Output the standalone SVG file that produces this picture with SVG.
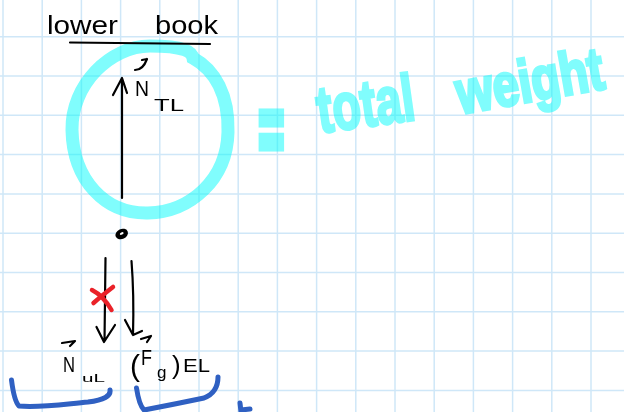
<svg xmlns="http://www.w3.org/2000/svg" width="624" height="412" viewBox="0 0 624 412">
<style>
.grid{stroke:#cfe7f8;stroke-width:1.5;fill:none}
.ink{stroke:#000;stroke-width:2.2;fill:none;stroke-linecap:round;stroke-linejoin:round}
.hand{font-family:"Liberation Sans",Arial,sans-serif;fill:#000}
.blue{stroke:#2f60c2;stroke-width:5;fill:none;stroke-linecap:round;stroke-linejoin:round}
.red{stroke:#ea2229;stroke-width:4.5;fill:none;stroke-linecap:round}
</style>
<rect width="624" height="412" fill="#fff"/>
<g id="grid" class="grid">
<path d="M3 0V412M42.2 0V412M81.4 0V412M120.6 0V412M159.8 0V412M199 0V412M238.2 0V412M277.4 0V412M316.6 0V412M355.8 0V412M395 0V412M434.2 0V412M473.4 0V412M512.6 0V412M551.8 0V412M591 0V412"/>
<path d="M0 36.7H624M0 76H624M0 115.3H624M0 154.6H624M0 193.9H624M0 233.2H624M0 272.5H624M0 311.8H624M0 351.1H624M0 390.4H624"/>
</g>
<g id="highlight" opacity="0.5" fill="#00fafa" stroke="#00fafa" font-family="Liberation Sans, Arial, sans-serif" font-weight="bold">
<path d="M150 46C185 46 192 52 193 58C215 70 229 95 228 132C227 180 190 212 148 213C105 214 73 180 72 130C71 85 110 46 150 46Z" fill="none" stroke-width="13"/>
<text x="0" y="0" font-size="90" stroke-width="9" transform="translate(259,160) scale(0.47,1)">=</text>
<text x="320" y="133" font-size="66" stroke-width="3" textLength="98" lengthAdjust="spacingAndGlyphs" transform="rotate(-8 320 133)">total</text>
<text x="0" y="0" font-size="47" stroke-width="2.6" transform="rotate(-10 460 114) translate(460 114) scale(1 1.28)">weight</text>
</g>
<g id="lower-book">
<text class="hand" font-size="26" y="34"><tspan x="47" textLength="71" lengthAdjust="spacingAndGlyphs">lower</tspan><tspan x="155" textLength="63" lengthAdjust="spacingAndGlyphs">book</tspan></text>
<path class="ink" d="M70 42.5L210 44"/>
</g>
<g id="connectors">
<path class="ink" d="M122 198L122 79M113 95L122 78L127 93"/>
<path class="ink" d="M105.5 258L104.5 341M96.5 327L104 342L115 325"/>
<path class="ink" d="M131.5 261C133 280 134 300 133 335M125 320L133 335L142 331"/>
</g>
<g id="N-TL">
<path class="ink" d="M135 70Q143 70 147 59M142 60L147 59" stroke-width="1.8"/>
<text class="hand" x="135" y="96" font-size="22" textLength="14" lengthAdjust="spacingAndGlyphs">N</text>
<text class="hand" x="154" y="111" font-size="16" textLength="30" lengthAdjust="spacingAndGlyphs">TL</text>
</g>
<g id="point">
<ellipse cx="121.7" cy="234" rx="6.5" ry="5" transform="rotate(-25 121.7 234)" fill="#000"/>
<ellipse cx="121.7" cy="233.5" rx="2" ry="1.1" transform="rotate(-25 121.7 233.5)" fill="#fff"/>
</g>
<g id="cross">
<path class="red" d="M92 290C98 293 104 297 111.5 310M93.5 303C98 299 104 294 113 287"/>
</g>
<g id="N-uL">
<path class="ink" d="M62 343L75 341L70 346" stroke-width="1.8"/>
<text class="hand" x="63" y="372" font-size="22" textLength="12" lengthAdjust="spacingAndGlyphs">N</text>
<text class="hand" x="82" y="382" font-size="11" textLength="23" lengthAdjust="spacingAndGlyphs">uL</text>
</g>
<g id="Fg-EL">
<path class="ink" d="M141 339L151 336L147 342" stroke-width="1.8"/>
<text class="hand" font-size="22"><tspan x="130" y="376" font-size="30">(</tspan><tspan x="141" y="365" textLength="11" lengthAdjust="spacingAndGlyphs">F</tspan><tspan x="157" y="378" font-size="17">g</tspan><tspan x="172" y="374" font-size="26">)</tspan><tspan x="183" y="372" font-size="19" textLength="27" lengthAdjust="spacingAndGlyphs">EL</tspan></text>
</g>
<g id="brackets">
<path class="blue" d="M11.5 380C13 392 15 402 19 406C40 408 65 404 88 402C104 400 111 396 110 390"/>
<path class="blue" d="M136.5 388C138 398 140 406 144 410C165 406 185 402 204 398C214 394 218 386 218 377"/>
<path class="blue" d="M240 403L241 412M241 410L250 409"/>
</g>
</svg>
